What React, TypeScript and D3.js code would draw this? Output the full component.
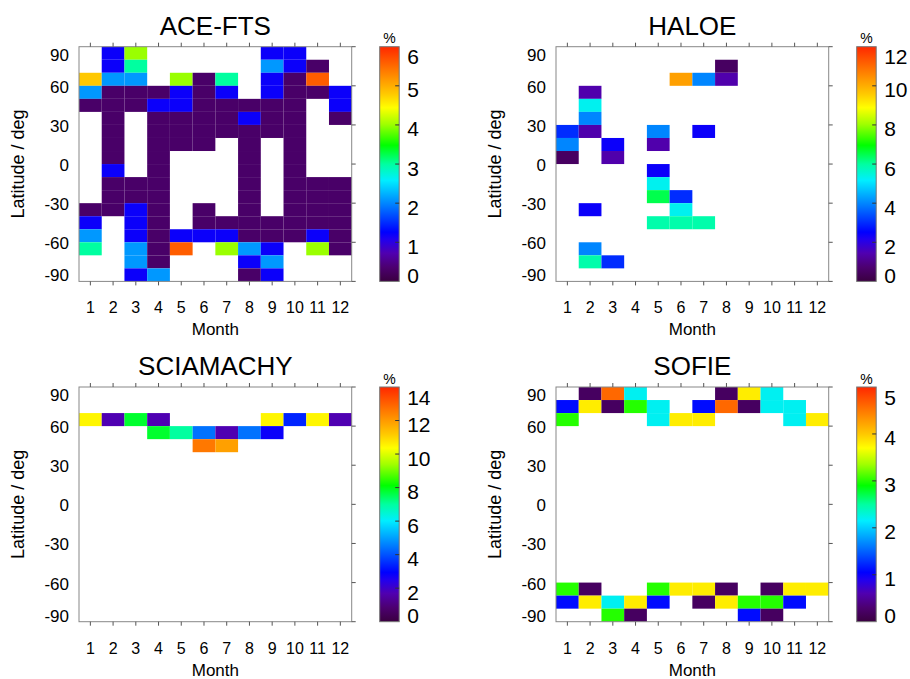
import React from "react";
import * as d3 from "d3";

const _ = null;

const months = [1, 2, 3, 4, 5, 6, 7, 8, 9, 10, 11, 12];
// lower edge of each 10 degree latitude bin, top row first
const latBins = [80, 70, 60, 50, 40, 30, 20, 10, 0, -10, -20, -30, -40, -50, -60, -70, -80, -90];
const latTicks = [-90, -60, -30, 0, 30, 60, 90];

const aceFts = [
  [_, 1.2, 4.0, _, _, _, _, _, 1.2, 1.2, _, _],
  [_, 1.2, 3.0, _, _, _, _, _, 2.1, 1.2, 0.3, _],
  [4.8, 2.1, 2.1, _, 4.0, 0.3, 3.0, _, 1.2, 0.3, 5.6, _],
  [2.1, 0.3, 0.3, 0.3, 1.2, 0.3, 1.2, _, 1.2, 0.3, 0.3, 1.2],
  [0.3, 0.3, 0.3, 1.2, 1.2, 0.3, 0.3, 0.3, 0.3, 0.3, _, 1.2],
  [_, 0.3, _, 0.3, 0.3, 0.3, 0.3, 1.2, 0.3, 0.3, _, 0.3],
  [_, 0.3, _, 0.3, 0.3, 0.3, 0.3, 0.3, 0.3, 0.3, _, _],
  [_, 0.3, _, 0.3, 0.3, 0.3, _, 0.3, _, 0.3, _, _],
  [_, 0.3, _, 0.3, _, _, _, 0.3, _, 0.3, _, _],
  [_, 1.2, _, 0.3, _, _, _, 0.3, _, 0.3, _, _],
  [_, 0.3, 0.3, 0.3, _, _, _, 0.3, _, 0.3, 0.3, 0.3],
  [_, 0.3, 0.3, 0.3, _, _, _, 0.3, _, 0.3, 0.3, 0.3],
  [0.3, 0.3, 1.2, 0.3, _, 0.3, _, 0.3, _, 0.3, 0.3, 0.3],
  [1.2, _, 1.2, 0.3, _, 0.3, 0.3, 0.3, 0.3, 0.3, 0.3, 0.3],
  [2.1, _, 1.2, 0.3, 1.2, 1.2, 1.2, 0.3, 0.3, 0.3, 1.2, 0.3],
  [3.0, _, 2.1, 0.3, 5.6, _, 4.0, 2.1, 1.2, _, 4.0, 0.3],
  [_, _, 2.1, 0.3, _, _, _, 1.2, 2.1, _, _, _],
  [_, _, 1.2, 2.1, _, _, _, 0.3, 1.2, _, _, _],
];

const haloe = [
  [_, _, _, _, _, _, _, _, _, _, _, _],
  [_, _, _, _, _, _, _, 0.5, _, _, _, _],
  [_, _, _, _, _, 10.2, 4.0, 1.4, _, _, _, _],
  [_, 1.4, _, _, _, _, _, _, _, _, _, _],
  [_, 5.3, _, _, _, _, _, _, _, _, _, _],
  [_, 4.0, _, _, _, _, _, _, _, _, _, _],
  [3.0, 1.4, _, _, 4.0, _, 2.4, _, _, _, _, _],
  [4.0, _, 2.4, _, 1.4, _, _, _, _, _, _, _],
  [0.5, _, 1.4, _, _, _, _, _, _, _, _, _],
  [_, _, _, _, 2.4, _, _, _, _, _, _, _],
  [_, _, _, _, 5.3, _, _, _, _, _, _, _],
  [_, _, _, _, 6.5, 3.0, _, _, _, _, _, _],
  [_, 2.4, _, _, _, 5.3, _, _, _, _, _, _],
  [_, _, _, _, 5.9, 5.9, 5.9, _, _, _, _, _],
  [_, _, _, _, _, _, _, _, _, _, _, _],
  [_, 4.0, _, _, _, _, _, _, _, _, _, _],
  [_, 5.9, 3.0, _, _, _, _, _, _, _, _, _],
  [_, _, _, _, _, _, _, _, _, _, _, _],
];

const sciamachy = [
  [_, _, _, _, _, _, _, _, _, _, _, _],
  [_, _, _, _, _, _, _, _, _, _, _, _],
  [10.5, 1.7, 7.8, 1.7, _, _, _, _, 10.5, 3.4, 10.5, 1.7],
  [_, _, _, 7.8, 7.0, 4.4, 1.7, 4.4, 2.8, _, _, _],
  [_, _, _, _, _, 12.6, 11.9, _, _, _, _, _],
  [_, _, _, _, _, _, _, _, _, _, _, _],
  [_, _, _, _, _, _, _, _, _, _, _, _],
  [_, _, _, _, _, _, _, _, _, _, _, _],
  [_, _, _, _, _, _, _, _, _, _, _, _],
  [_, _, _, _, _, _, _, _, _, _, _, _],
  [_, _, _, _, _, _, _, _, _, _, _, _],
  [_, _, _, _, _, _, _, _, _, _, _, _],
  [_, _, _, _, _, _, _, _, _, _, _, _],
  [_, _, _, _, _, _, _, _, _, _, _, _],
  [_, _, _, _, _, _, _, _, _, _, _, _],
  [_, _, _, _, _, _, _, _, _, _, _, _],
  [_, _, _, _, _, _, _, _, _, _, _, _],
  [_, _, _, _, _, _, _, _, _, _, _, _],
];

const sofie = [
  [_, 0.2, 4.6, 2.2, _, _, _, 0.2, 3.8, 2.2, _, _],
  [1.1, 3.8, 0.2, 3.0, 2.2, _, 1.1, 4.6, 0.2, 2.2, 2.2, _],
  [3.0, _, _, _, 2.2, 3.8, 3.8, _, _, _, 2.2, 3.8],
  [_, _, _, _, _, _, _, _, _, _, _, _],
  [_, _, _, _, _, _, _, _, _, _, _, _],
  [_, _, _, _, _, _, _, _, _, _, _, _],
  [_, _, _, _, _, _, _, _, _, _, _, _],
  [_, _, _, _, _, _, _, _, _, _, _, _],
  [_, _, _, _, _, _, _, _, _, _, _, _],
  [_, _, _, _, _, _, _, _, _, _, _, _],
  [_, _, _, _, _, _, _, _, _, _, _, _],
  [_, _, _, _, _, _, _, _, _, _, _, _],
  [_, _, _, _, _, _, _, _, _, _, _, _],
  [_, _, _, _, _, _, _, _, _, _, _, _],
  [_, _, _, _, _, _, _, _, _, _, _, _],
  [3.0, 0.2, _, _, 3.0, 3.8, 3.8, 0.2, _, 0.2, 3.8, 3.8],
  [1.1, 3.8, 2.2, 3.8, 1.1, _, 0.2, 3.8, 3.0, 3.0, 1.1, _],
  [_, _, 3.0, 0.2, _, _, _, _, 1.1, 0.2, _, _],
];

const aceTicks = [0, 1, 2, 3, 4, 5, 6];
const haloeTicks = [0, 2, 4, 6, 8, 10, 12];
const sciaTicks = [0, 2, 4, 6, 8, 10, 12, 14];
const sofieTicks = [0, 1, 2, 3, 4, 5];

// rainbow colour table, position 0..1
const cmapPos = [0, 0.06, 0.12, 0.18, 0.21, 0.32, 0.43, 0.5, 0.58, 0.67, 0.74, 0.8, 0.87, 0.93, 1];
const cmapCol = [
  "#3a0040", "#4c0070", "#5000b0", "#2000f0", "#0000ff", "#0078ff", "#00eeff",
  "#00ffa0", "#00ff00", "#a0ff00", "#ffff00", "#ffc800", "#ff9000", "#ff6000", "#ff2800",
];
const cmap = d3.scaleLinear<string>().domain(cmapPos).range(cmapCol).clamp(true);

const FONT = "'Liberation Sans', Arial, Helvetica, sans-serif";
const W = 272.7;
const H = 234.7;

function Panel({ title, grid, ticks, x0, y0 }) {
  const x = d3.scaleLinear().domain([0.5, 12.5]).range([x0, x0 + W]);
  const y = d3.scaleLinear().domain([-90, 90]).range([y0 + H, y0]);
  const vmax = ticks[ticks.length - 1];
  const c = d3.scaleLinear().domain([0, vmax]).range([0, 1]);
  const barX = x0 + W + 28;
  const barW = 19.5;
  const cb = d3.scaleLinear().domain([0, vmax]).range([y0 + H, y0]);
  const clamp = (v, lo, hi) => Math.max(lo, Math.min(hi, v));

  const cells = [];
  grid.forEach((row, r) =>
    row.forEach((v, m) => {
      if (v === null) return;
      const lat = latBins[r];
      cells.push(
        <rect
          key={`${r}-${m}`}
          x={x(months[m] - 0.5)}
          y={y(lat + 10)}
          width={x(months[m] + 0.5) - x(months[m] - 0.5)}
          height={y(lat) - y(lat + 10)}
          fill={cmap(c(v))}
        />
      );
    })
  );

  return (
    <g fontFamily={FONT}>
      <text x={x0 + W / 2} y={y0 - 12} textAnchor="middle" fontSize={26}>
        {title}
      </text>
      {cells}
      <rect x={x0} y={y0} width={W} height={H} fill="none" stroke="#888" strokeWidth={1} />
      {months.map((m) => (
        <g key={m}>
          <line x1={x(m)} x2={x(m)} y1={y0} y2={y0 - 4} stroke="#555" />
          <line x1={x(m)} x2={x(m)} y1={y0 + H} y2={y0 + H + 4} stroke="#555" />
          <text x={x(m)} y={y0 + H + 32} textAnchor="middle" fontSize={16}>
            {m}
          </text>
        </g>
      ))}
      {latTicks.map((t) => (
        <g key={t}>
          <line x1={x0 + W} x2={x0 + W + 4} y1={y(t)} y2={y(t)} stroke="#555" />
          <text
            x={x0 - 10}
            y={clamp(y(t) + 1.5, y0 + 8.5, y0 + H - 5.5)}
            textAnchor="end"
            dominantBaseline="central"
            fontSize={17}
          >
            {t}
          </text>
        </g>
      ))}
      <text x={x0 + W / 2} y={y0 + H + 54} textAnchor="middle" fontSize={17}>
        Month
      </text>
      <text
        transform={`translate(${x0 - 61},${y0 + H / 2}) rotate(-90)`}
        textAnchor="middle"
        dominantBaseline="central"
        fontSize={18}
      >
        Latitude / deg
      </text>
      <rect x={barX} y={y0} width={barW} height={H} fill="url(#rainbow)" stroke="#777" strokeWidth={1} />
      {ticks.map((t) => (
        <g key={t}>
          {t > 0 && t < vmax && (
            <line x1={barX + barW - 4} x2={barX + barW} y1={cb(t)} y2={cb(t)} stroke="#333" />
          )}
          <text
            x={barX + barW + 8}
            y={clamp(cb(t) + 4, y0 + 10, y0 + H - 6)}
            dominantBaseline="central"
            fontSize={21}
          >
            {t}
          </text>
        </g>
      ))}
      <text x={barX + barW / 2} y={y0 - 3.5} textAnchor="middle" fontSize={14}>
        %
      </text>
    </g>
  );
}

export default function App() {
  return (
    <svg
      width={910}
      height={679}
      style={{ position: "absolute", left: 0, top: 0, background: "#fff" }}
    >
      <defs>
        <linearGradient id="rainbow" x1="0" y1="1" x2="0" y2="0">
          {cmapPos.map((p, i) => (
            <stop key={i} offset={p} stopColor={cmapCol[i]} />
          ))}
        </linearGradient>
      </defs>
      <rect width={910} height={679} fill="#fff" />
      <Panel title="ACE-FTS" grid={aceFts} ticks={aceTicks} x0={79} y0={46.7} />
      <Panel title="HALOE" grid={haloe} ticks={haloeTicks} x0={556} y0={46.7} />
      <Panel title="SCIAMACHY" grid={sciamachy} ticks={sciaTicks} x0={79} y0={387} />
      <Panel title="SOFIE" grid={sofie} ticks={sofieTicks} x0={556} y0={387} />
    </svg>
  );
}
